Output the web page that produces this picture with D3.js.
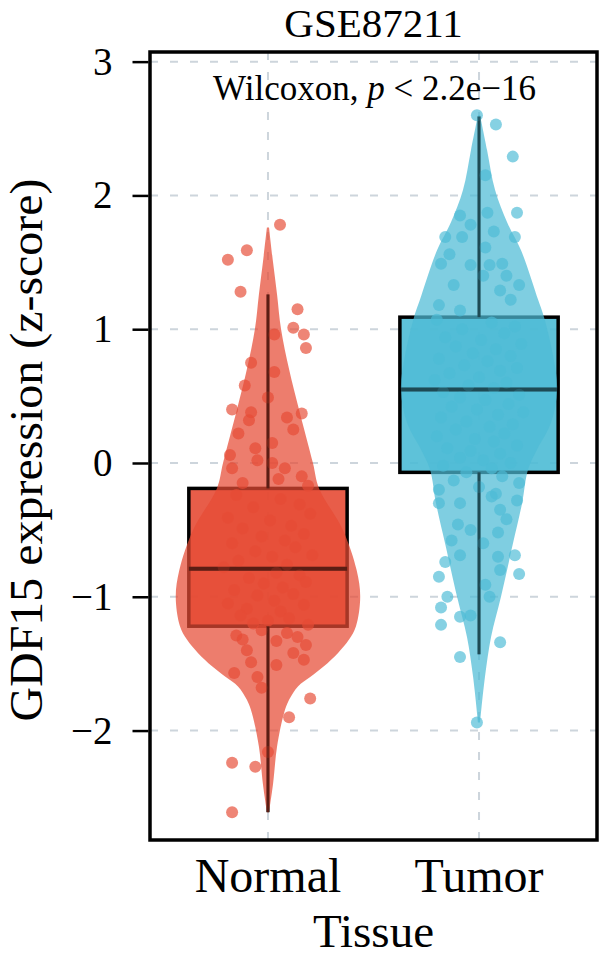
<!DOCTYPE html>
<html>
<head>
<meta charset="utf-8">
<script src="https://cdn.jsdelivr.net/npm/d3@7"></script>
<style>
  body { margin: 0; background: #fff; }
  svg { display: block; font-family: "Liberation Serif", "DejaVu Serif", serif; }
</style>
</head>
<body>
<div id="chart"></div>
<script>
// groups and box statistics (z-score)
var groups = ["Normal", "Tumor"];
var colors = ["#E64B35", "#4DBBD5"];
var q1 = [-1.22, -0.07];
var medians = [-0.79, 0.55];
var q3 = [-0.19, 1.09];
var whiskerLow = [-2.61, -1.43];
var whiskerHigh = [1.26, 2.59];
var yTicks = [-2, -1, 0, 1, 2, 3];

// violin outline: value and half width (in category units)
var normalViolinY = [1.76, 1.5, 1.26, 1.0, 0.7, 0.4, 0.0, -0.19, -0.5, -0.8, -1.0, -1.22, -1.32, -1.42, -1.52, -1.6, -1.67, -1.77, -1.87, -2.12, -2.4, -2.61];
var normalViolinW = [0.005, 0.024, 0.043, 0.062, 0.10, 0.147, 0.213, 0.242, 0.355, 0.42, 0.437, 0.417, 0.384, 0.332, 0.265, 0.2, 0.142, 0.1, 0.076, 0.043, 0.024, 0.005];
var tumorViolinY = [2.6, 2.34, 2.04, 1.8, 1.59, 1.22, 1.09, 0.8, 0.55, 0.3, 0.1, -0.05, -0.3, -0.6, -1.0, -1.3, -1.6, -1.94];
var tumorViolinW = [0.005, 0.038, 0.076, 0.133, 0.199, 0.28, 0.308, 0.351, 0.37, 0.341, 0.275, 0.232, 0.204, 0.161, 0.104, 0.057, 0.028, 0.005];

// jittered samples: [x offset (category units), value]
var normalPoints = [
  [0.057,1.78],[-0.10,1.59],[-0.19,1.52],[-0.13,1.28],[0.14,1.15],[0.12,1.01],[0.17,0.96],[0.18,0.86],
  [0.03,0.96],[-0.08,0.75],[0.03,0.68],[-0.11,0.58],[0.0,0.49],[-0.17,0.40],[-0.08,0.38],[-0.09,0.32],
  [0.09,0.34],[0.16,0.37],[0.12,0.25],[-0.14,0.22],[-0.06,0.11],[0.02,0.15],[-0.18,0.06],[-0.17,-0.04],
  [-0.05,0.02],[0.08,-0.04],[0.16,-0.10],[0.02,0.0],[0.05,-0.12],[-0.12,-0.15],[0.19,-0.17],
  [-0.15,-0.24],[0.06,-0.27],[0.15,-0.31],[-0.07,-0.33],[0.20,-0.38],[-0.19,-0.41],[0.01,-0.43],[0.11,-0.47],
  [-0.12,-0.49],[0.17,-0.53],[-0.03,-0.55],[0.08,-0.58],[-0.17,-0.60],[0.13,-0.63],[-0.06,-0.66],[0.21,-0.69],
  [0.02,-0.70],[-0.14,-0.73],[0.09,-0.76],[-0.21,-0.78],[0.04,-0.82],[0.15,-0.84],[-0.09,-0.86],[0.18,-0.89],
  [-0.02,-0.90],[0.07,-0.93],[-0.16,-0.95],[0.12,-0.98],[-0.05,-0.99],[0.03,-1.03],[-0.19,-1.05],[0.17,-1.06],
  [-0.10,-1.09],[0.06,-1.11],[-0.13,-1.14],[0.10,-1.16],[0.00,-1.18],[-0.07,-1.20],[0.19,-1.21],[-0.03,-1.25],
  [0.09,-1.27],[-0.15,-1.29],[0.14,-1.30],
  [-0.12,-1.32],[0.04,-1.33],[0.18,-1.36],[0.12,-1.42],[-0.08,-1.49],[0.04,-1.51],[-0.16,-1.57],[-0.05,-1.60],
  [-0.03,-1.68],[0.20,-1.76],[0.10,-1.90],[0.0,-2.16],[-0.17,-2.24],[-0.06,-2.27],[-0.17,-2.61],[0.17,-1.47],
  [-0.10,-1.40]
];
var tumorPoints = [
  [-0.01,2.60],[0.08,2.53],[0.16,2.29],[0.03,2.15],[0.18,1.87],[-0.09,1.85],[0.04,1.87],[-0.04,1.78],
  [-0.16,1.69],[-0.08,1.69],[0.07,1.73],[0.17,1.69],[0.03,1.61],[-0.18,1.49],[-0.04,1.48],[0.05,1.48],
  [0.11,1.49],[-0.12,1.33],[0.10,1.29],[0.19,1.33],[-0.19,1.18],[-0.09,1.14],[0.15,1.22],[0.02,1.40],
  [-0.14,1.56],[0.13,1.40],
  [-0.20,1.07],[0.06,1.05],[0.17,1.02],[-0.08,1.00],[0.12,0.97],[-0.16,0.94],[0.01,0.92],[0.20,0.89],
  [-0.11,0.87],[0.08,0.85],[-0.03,0.82],[0.15,0.80],[-0.19,0.78],[0.04,0.76],[-0.07,0.73],[0.18,0.71],
  [0.10,0.69],[-0.14,0.67],[0.00,0.64],[-0.21,0.62],[0.13,0.60],[-0.05,0.58],[0.07,0.56],[-0.17,0.53],
  [0.19,0.51],[-0.09,0.49],[0.03,0.47],[0.14,0.44],[-0.13,0.42],[-0.01,0.40],[0.21,0.38],[0.09,0.36],
  [-0.18,0.34],[-0.06,0.31],[0.16,0.29],[0.05,0.27],[-0.11,0.25],[0.12,0.22],[-0.20,0.20],[-0.02,0.18],
  [0.07,0.16],[0.18,0.13],[-0.15,0.11],[-0.04,0.09],[0.10,0.07],[-0.09,0.04],[0.02,0.02],[0.15,0.00],
  [-0.17,-0.02],[0.06,-0.04],[-0.06,-0.07],[0.11,-0.10],[-0.12,-0.13],[0.19,-0.15],[0.00,-0.18],[-0.19,-0.20],
  [0.08,-0.23],
  [-0.19,-0.30],[-0.09,-0.30],[0.10,-0.35],[0.18,-0.28],[-0.10,-0.46],[0.09,-0.52],[-0.04,-0.50],[-0.09,-0.69],
  [0.17,-0.69],[-0.16,-0.74],[0.09,-0.70],[-0.19,-0.85],[0.19,-0.83],[0.10,-0.80],[0.03,-0.91],[-0.15,-1.00],
  [0.05,-1.00],[-0.18,-1.08],[-0.09,-1.15],[-0.04,-1.14],[-0.18,-1.21],[0.10,-1.34],[-0.09,-1.45],[-0.01,-1.94],
  [0.02,-0.60],[-0.13,-0.58],[0.13,-0.42],[0.06,-0.25]
];

var violins = [
  normalViolinY.map(function(v, i) { return [v, normalViolinW[i]]; }),
  tumorViolinY.map(function(v, i) { return [v, tumorViolinW[i]]; })
];
var points = [normalPoints, tumorPoints];

var W = 600, H = 958;
var panel = {left: 150, right: 597, top: 52, bottom: 840};

var svg = d3.select("#chart").append("svg")
  .attr("width", W)
  .attr("height", H);

var x = d3.scalePoint()
  .domain(groups)
  .range([panel.left, panel.right])
  .padding(0.559);
var step = x.step();

var y = d3.scaleLinear()
  .domain([-2.818, 3.072])
  .range([panel.bottom, panel.top]);

// grid
var grid = svg.append("g").attr("class", "grid");
grid.selectAll("line.h")
  .data(yTicks)
  .enter().append("line")
  .attr("class", "h")
  .attr("x1", panel.left).attr("x2", panel.right)
  .attr("y1", function(d) { return y(d); })
  .attr("y2", function(d) { return y(d); })
  .attr("stroke", "#cdd5dc")
  .attr("stroke-width", 2)
  .attr("stroke-dasharray", "8,12");
grid.selectAll("line.v")
  .data(groups)
  .enter().append("line")
  .attr("class", "v")
  .attr("y1", panel.top).attr("y2", panel.bottom)
  .attr("x1", function(d) { return x(d); })
  .attr("x2", function(d) { return x(d); })
  .attr("stroke", "#cdd5dc")
  .attr("stroke-width", 2)
  .attr("stroke-dasharray", "8,12");

// boxplots (drawn under the violins)
var boxW = 0.75 * step;
function drawBoxLines(g, i, opacity) {
  var cx = x(groups[i]);
  g.append("line")
    .attr("x1", cx).attr("x2", cx)
    .attr("y1", y(whiskerHigh[i])).attr("y2", y(q3[i]))
    .attr("stroke", "#000").attr("stroke-width", 3).attr("stroke-opacity", opacity);
  g.append("line")
    .attr("x1", cx).attr("x2", cx)
    .attr("y1", y(q1[i])).attr("y2", y(whiskerLow[i]))
    .attr("stroke", "#000").attr("stroke-width", 3).attr("stroke-opacity", opacity);
  g.append("line")
    .attr("x1", cx - boxW / 2).attr("x2", cx + boxW / 2)
    .attr("y1", y(medians[i])).attr("y2", y(medians[i]))
    .attr("stroke", "#000").attr("stroke-width", 4).attr("stroke-opacity", opacity);
}
groups.forEach(function(g, i) {
  var cx = x(g);
  var b = svg.append("g").attr("class", "box");
  b.append("rect")
    .attr("x", cx - boxW / 2)
    .attr("y", y(q3[i]))
    .attr("width", boxW)
    .attr("height", y(q1[i]) - y(q3[i]))
    .attr("fill", colors[i])
    .attr("fill-opacity", 0.9)
    .attr("stroke", "#000")
    .attr("stroke-width", 3.5);
  drawBoxLines(b, i, 1);
});

// violins
groups.forEach(function(g, i) {
  var cx = x(g);
  var area = d3.area()
    .y(function(d) { return y(d[0]); })
    .x0(function(d) { return cx - d[1] * step; })
    .x1(function(d) { return cx + d[1] * step; })
    .curve(d3.curveCatmullRom);
  svg.append("path")
    .datum(violins[i])
    .attr("d", area)
    .attr("fill", colors[i])
    .attr("fill-opacity", 0.72);
});

// jittered points
groups.forEach(function(g, i) {
  var cx = x(g);
  svg.append("g").selectAll("circle")
    .data(points[i])
    .enter().append("circle")
    .attr("cx", function(d) { return cx + d[0] * step; })
    .attr("cy", function(d) { return y(d[1]); })
    .attr("r", 6)
    .attr("fill", colors[i])
    .attr("fill-opacity", 0.68);
});

// darken lines seen through the violin layer
groups.forEach(function(g, i) {
  drawBoxLines(svg.append("g"), i, 0.45);
});

// panel border
svg.append("rect")
  .attr("x", panel.left).attr("y", panel.top)
  .attr("width", panel.right - panel.left)
  .attr("height", panel.bottom - panel.top)
  .attr("fill", "none")
  .attr("stroke", "#000")
  .attr("stroke-width", 3.5);

// y axis
var yAxis = d3.axisLeft(y)
  .tickValues(yTicks)
  .tickSize(16)
  .tickPadding(20)
  .tickFormat(function(d) { return d < 0 ? "\u2212" + Math.abs(d) : d; });
var ya = svg.append("g")
  .attr("class", "y axis")
  .attr("transform", "translate(" + (panel.left - 1.5) + ",0)")
  .call(yAxis);
ya.select(".domain").remove();
ya.selectAll(".tick line").attr("stroke", "#000").attr("stroke-width", 2.5);
ya.selectAll(".tick text")
  .attr("font-family", "Liberation Serif, serif")
  .attr("font-size", 39)
  .attr("fill", "#000");

// x labels
svg.selectAll("text.xlab")
  .data(groups)
  .enter().append("text")
  .attr("class", "xlab")
  .attr("x", function(d) { return x(d); })
  .attr("y", 892)
  .attr("text-anchor", "middle")
  .style("font-size", "48px")
  .text(function(d) { return d; });

svg.append("text")
  .attr("x", (panel.left + panel.right) / 2)
  .attr("y", 947)
  .attr("text-anchor", "middle")
  .style("font-size", "47px")
  .text("Tissue");

svg.append("text")
  .attr("transform", "rotate(-90)")
  .attr("x", -450)
  .attr("y", 42)
  .attr("text-anchor", "middle")
  .attr("textLength", 543)
  .attr("lengthAdjust", "spacingAndGlyphs")
  .style("font-size", "47px")
  .text("GDF15 expression (z-score)");

svg.append("text")
  .attr("x", (panel.left + panel.right) / 2)
  .attr("y", 37)
  .attr("text-anchor", "middle")
  .style("font-size", "41px")
  .text("GSE87211");

var stat = svg.append("text")
  .attr("x", (panel.left + panel.right) / 2 + 1)
  .attr("y", 100)
  .attr("text-anchor", "middle")
  .style("font-size", "35px");
stat.append("tspan").text("Wilcoxon, ");
stat.append("tspan").style("font-style", "italic").text("p");
stat.append("tspan").text(" < 2.2e\u221216");
</script>
</body>
</html>
